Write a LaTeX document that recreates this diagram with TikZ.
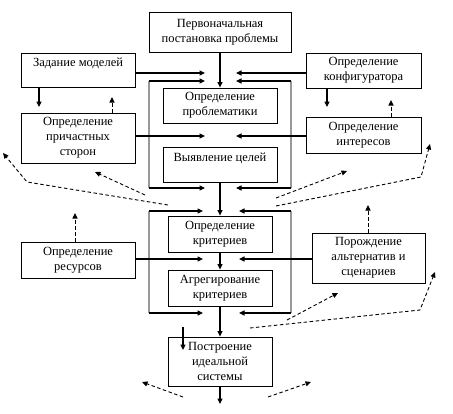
\documentclass[tikz,border=0pt]{standalone}
\usepackage{fontspec}
\setmainfont{Liberation Serif}
\usetikzlibrary{arrows.meta}
\begin{document}
\begin{tikzpicture}[x=1pt,y=-1pt,
  box/.style={draw=black, line width=0.8pt, align=center, inner sep=0pt,
    font=\fontsize{12.5}{15}\selectfont},
  arr/.style={line width=1.2pt, -{Triangle[length=5.5pt,width=5pt]}},
  darr/.style={line width=0.9pt, dash pattern=on 3.5pt off 2.5pt,
    -{Triangle[length=5.5pt,width=5pt]}},
  greyline/.style={draw=black!40, line width=1.6pt}]
\useasboundingbox (0,0) rectangle (453,413);

% boxes
\node[box, minimum width=142pt, minimum height=40pt] (top) at (220,32) {Первоначальная\\постановка проблемы};
\node[box, minimum width=114pt, minimum height=34pt] (models) at (78,70) {Задание моделей\\\mbox{}};
\node[box, minimum width=115pt, minimum height=35pt] (konf) at (363.5,70.5) {Определение\\конфигуратора};
\node[box, minimum width=114pt, minimum height=35pt] (prob) at (220,105.5) {Определение\\проблематики};
\node[box, minimum width=114pt, minimum height=50pt] (stor) at (78,138) {Определение\\причастных\\сторон};
\node[box, minimum width=115pt, minimum height=36pt] (inter) at (363.5,135) {Определение\\интересов};
\node[box, minimum width=114pt, minimum height=35pt] (goals) at (220,164.5) {Выявление целей\\\mbox{}};
\node[box, minimum width=104pt, minimum height=36pt] (crit) at (220,234) {Определение\\критериев};
\node[box, minimum width=104pt, minimum height=36pt] (aggr) at (220,288) {Агрегирование\\критериев};
\node[box, minimum width=114pt, minimum height=36pt] (res) at (78,260) {Определение\\ресурсов};
\node[box, minimum width=113pt, minimum height=50pt] (alt) at (368.5,258) {Порождение\\альтернатив и\\сценариев};
\node[box, minimum width=104pt, minimum height=49pt] (ideal) at (220,361.5) {Построение\\идеальной\\системы};

% grey brackets
\coordinate (ulT) at (149,81);  \coordinate (ulB) at (149,188);
\coordinate (urT) at (291,81);  \coordinate (urB) at (291,188);
\coordinate (tlT) at (205,81);  \coordinate (tlB) at (205,188);
\coordinate (trT) at (236,81);  \coordinate (trB) at (236,188);
\coordinate (llT) at (149,211); \coordinate (llB) at (149,313);
\coordinate (lrT) at (291,211); \coordinate (lrB) at (291,313);
\coordinate (blT) at (203,211); \coordinate (blB) at (203,313);
\coordinate (brT) at (239,211); \coordinate (brB) at (239,313);
\draw[greyline] (ulT) -- (ulB);
\draw[greyline] (urT) -- (urB);
\draw[greyline] (llT) -- (llB);
\draw[greyline] (lrT) -- (lrB);
\draw[arr] (ulT) -- (tlT);
\draw[arr] (ulB) -- (tlB);
\draw[arr] (urT) -- (trT);
\draw[arr] (urB) -- (trB);
\draw[arr] (llT) -- (blT);
\draw[arr] (llB) -- (blB);
\draw[arr] (lrT) -- (brT);
\draw[arr] (lrB) -- (brB);

% side arrows
\coordinate (mT) at (205,73);
\coordinate (kT) at (236,73);
\coordinate (sT) at (205,136);
\coordinate (iT) at (236,136);
\coordinate (rT) at (203,259);
\coordinate (aT) at (239,259);
\draw[arr] (models.east |- mT) -- (mT);
\draw[arr] (konf.west |- kT) -- (kT);
\draw[arr] (stor.east |- sT) -- (sT);
\draw[arr] (inter.west |- iT) -- (iT);
\draw[arr] (res.east |- rT) -- (rT);
\draw[arr] (alt.west |- aT) -- (aT);

% main flow
\coordinate (out) at (220,404);
\draw[arr] (top.south) -- (prob.north);
\draw[arr] (goals.south) -- (crit.north);
\draw[arr] (crit.south) -- (aggr.north);
\draw[arr] (aggr.south) -- (ideal.north);
\draw[arr] (ideal.south) -- (out);

% small vertical arrows
\coordinate (m1) at (39,107);
\coordinate (k1) at (327,107);
\coordinate (in1) at (183,327);
\coordinate (in2) at (183,350);
\draw[arr] (models.south -| m1) -- (m1);
\draw[arr] (konf.south -| k1) -- (k1);
\draw[arr] (in1) -- (in2);

% dashed up arrows
\coordinate (s1) at (112,97);
\coordinate (i1) at (391,100);
\coordinate (r1) at (75,213);
\coordinate (al1) at (368,205);
\draw[darr] (stor.north -| s1) -- (s1);
\draw[darr] (inter.north -| i1) -- (i1);
\draw[darr] (res.north -| r1) -- (r1);
\draw[darr] (alt.north -| al1) -- (al1);

% dashed feedback lines
\coordinate (d1a) at (168,205); \coordinate (d1b) at (27,182); \coordinate (d1c) at (3,153);
\coordinate (d2a) at (145,195); \coordinate (d2b) at (95,172);
\coordinate (d3a) at (276,198); \coordinate (d3b) at (347,171);
\coordinate (d4a) at (276,206); \coordinate (d4b) at (421,177); \coordinate (d4c) at (430,144);
\coordinate (d5a) at (250,328); \coordinate (d5b) at (420,310); \coordinate (d5c) at (435,272);
\coordinate (d6a) at (287,320); \coordinate (d6b) at (338,293);
\coordinate (d7a) at (183,397); \coordinate (d7b) at (142,382);
\coordinate (d8a) at (268,397); \coordinate (d8b) at (311,382);
\draw[darr] (d1a) -- (d1b) -- (d1c);
\draw[darr] (d2a) -- (d2b);
\draw[darr] (d3a) -- (d3b);
\draw[darr] (d4a) -- (d4b) -- (d4c);
\draw[darr] (d5a) -- (d5b) -- (d5c);
\draw[darr] (d6a) -- (d6b);
\draw[darr] (d7a) -- (d7b);
\draw[darr] (d8a) -- (d8b);
\end{tikzpicture}
\end{document}
